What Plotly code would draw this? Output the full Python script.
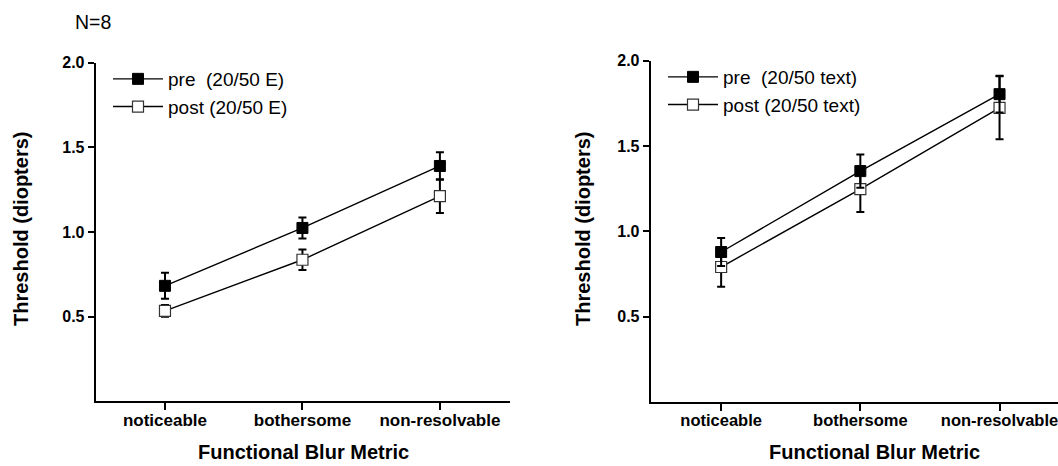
import plotly.graph_objects as go

categories = ["noticeable", "bothersome", "non-resolvable"]
x_pos = [0, 1, 2]

# Left panel: 20/50 E
pre_E = [0.682, 1.024, 1.390]
pre_E_err = [0.077, 0.062, 0.081]
post_E = [0.534, 0.836, 1.212]
post_E_err = [0.035, 0.060, 0.100]

# Right panel: 20/50 text
pre_T = [0.879, 1.353, 1.804]
pre_T_err = [0.082, 0.098, 0.108]
post_T = [0.791, 1.248, 1.724]
post_T_err = [0.116, 0.135, 0.185]

y_ticks = [0.5, 1.0, 1.5, 2.0]
y_tick_labels = ["0.5", "1.0", "1.5", "2.0"]

W, H = 1058, 466
FONT = "Liberation Sans, Arial, sans-serif"

fig = go.Figure()

def add_pair(pre, pre_err, post, post_err, xa, ya, legend, pre_name, post_name):
    # post drawn first so pre error bars sit over post markers
    fig.add_trace(go.Scatter(
        x=x_pos, y=post, mode="lines+markers", name=post_name,
        xaxis=xa, yaxis=ya, legend=legend, legendrank=2,
        line=dict(color="black", width=1.4),
        marker=dict(symbol="square", size=11, color="white",
                    line=dict(color="#333333", width=1.2)),
        error_y=dict(type="data", array=post_err, visible=True,
                     color="black", thickness=2, width=4),
    ))
    fig.add_trace(go.Scatter(
        x=x_pos, y=pre, mode="lines+markers", name=pre_name,
        xaxis=xa, yaxis=ya, legend=legend, legendrank=1,
        line=dict(color="black", width=1.4),
        marker=dict(symbol="square", size=11, color="black",
                    line=dict(color="black", width=1)),
        error_y=dict(type="data", array=pre_err, visible=True,
                     color="black", thickness=2, width=4),
    ))

add_pair(pre_E, pre_E_err, post_E, post_E_err, "x", "y", "legend",
         "pre  (20/50 E)", "post (20/50 E)")
add_pair(pre_T, pre_T_err, post_T, post_T_err, "x2", "y2", "legend2",
         "pre  (20/50 text)", "post (20/50 text)")

def xaxis_common(fs):
    return dict(
        tickmode="array", tickvals=x_pos,
        ticktext=["<b>%s</b>" % c for c in categories],
        showline=True, linecolor="black", linewidth=2,
        ticks="outside", ticklen=2, tickwidth=2, tickcolor="black",
        minor=dict(ticks="outside", tick0=0, dtick=1, ticklen=7,
                   tickwidth=2, tickcolor="black", showgrid=False),
        showgrid=False, zeroline=False, automargin=False,
        ticklabeloverflow="allow",
        tickfont=dict(family=FONT, size=fs, color="black"),
    )

yaxis_common = dict(
    range=[0, 2.0], tickmode="array", tickvals=y_ticks,
    ticktext=["<b>%s</b>" % t for t in y_tick_labels],
    showline=True, linecolor="black", linewidth=2,
    ticks="outside", ticklen=6, tickwidth=2, tickcolor="black",
    showgrid=False, zeroline=False, automargin=False,
    tickfont=dict(family=FONT, size=16, color="black"),
)

fig.update_layout(
    width=W, height=H,
    margin=dict(l=0, r=0, t=0, b=0, autoexpand=False),
    plot_bgcolor="white", paper_bgcolor="white",
    font=dict(family=FONT, color="black"),
    xaxis=dict(domain=[95.7 / W, 510 / W], range=[-0.504, 2.51], anchor="y", **xaxis_common(17)),
    yaxis=dict(domain=[1 - 401.3 / H, 1 - 62.7 / H], anchor="x", **yaxis_common),
    xaxis2=dict(domain=[650.7 / W, 1.0], range=[-0.506, 2.42], anchor="y2", **xaxis_common(16.5)),
    yaxis2=dict(domain=[1 - 402 / H, 1 - 60.7 / H], anchor="x2", **yaxis_common),
    legend=dict(x=108 / W, y=1 - 60 / H, xanchor="left", yanchor="top",
                bgcolor="rgba(0,0,0,0)", font=dict(family=FONT, size=19, color="black"),
                tracegroupgap=0, itemsizing="trace", itemwidth=50),
    legend2=dict(x=663 / W, y=1 - 58 / H, xanchor="left", yanchor="top",
                 bgcolor="rgba(0,0,0,0)", font=dict(family=FONT, size=19, color="black"),
                 tracegroupgap=0, itemsizing="trace", itemwidth=50),
    showlegend=True,
)

annotations = [
    dict(text="N=8", x=73 / W, y=1 - 22 / H, xanchor="left", yanchor="middle",
         font=dict(size=19.5)),
    dict(text="<b>Threshold (diopters)</b>", x=21 / W, y=1 - 229 / H, textangle=-90,
         xanchor="center", yanchor="middle", font=dict(size=20)),
    dict(text="<b>Threshold (diopters)</b>", x=583 / W, y=1 - 229 / H, textangle=-90,
         xanchor="center", yanchor="middle", font=dict(size=20)),
    dict(text="<b>Functional Blur Metric</b>", x=303 / W, y=1 - 452 / H,
         xanchor="center", yanchor="middle", font=dict(size=20)),
    dict(text="<b>Functional Blur Metric</b>", x=874 / W, y=1 - 452 / H,
         xanchor="center", yanchor="middle", font=dict(size=20)),
]
for a in annotations:
    a.update(xref="paper", yref="paper", showarrow=False)
    a["font"] = dict(family=FONT, color="black", size=a["font"]["size"])
fig.update_layout(annotations=annotations)

fig.write_html(
    "out.html",
    config={"displayModeBar": False},
    post_script="document.body.style.margin='0';document.body.style.overflow='hidden';",
)
